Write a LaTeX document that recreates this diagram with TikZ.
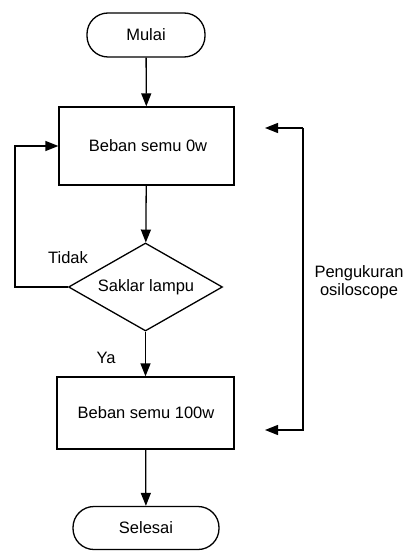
\documentclass[tikz,border=0pt]{standalone}
\usepackage{fontspec}
\setmainfont{Liberation Sans}
\usetikzlibrary{arrows.meta,shapes.geometric}
\begin{document}
\begin{tikzpicture}[x=1pt,y=-1pt,
  font=\fontsize{16.5}{19}\selectfont,
  line width=1.3pt,
  terminal/.style={draw,rectangle,rounded corners=21pt,inner sep=0pt},
  procbox/.style={draw,rectangle,inner sep=0pt},
  decision/.style={draw,diamond,inner sep=0pt},
  txt/.style={inner sep=0pt,anchor=center},
  flow/.style={-{Triangle[length=13pt,width=10pt]}}]
\useasboundingbox (0,0) rectangle (407,556);

% nodes of the flow
\node[terminal,minimum width=118pt,minimum height=44pt] (start) at (146,35) {Mulai};
\node[procbox,minimum width=175pt,minimum height=78pt] (b0) at (146.5,146) {};
\node[txt] at (148,146) {Beban semu 0w};
\node[decision,minimum width=154pt,minimum height=88pt] (sw) at (145.5,287) {};
\node[txt] at (146,287) {Saklar lampu};
\node[procbox,minimum width=177pt,minimum height=72pt] (b100) at (145.5,413) {};
\node[txt] at (146,413) {Beban semu 100w};
\node[terminal,minimum width=146pt,minimum height=43pt] (end) at (146,528) {Selesai};

% branch labels
\node[txt] (tidak) at (68,258) {Tidak};
\node[txt] (ya) at (106,358) {Ya};

% measurement note
\node[txt,align=center] (osc) at (359,282) {Pengukuran\\[-1pt]osiloscope};
\coordinate (mtop) at (303,128);
\coordinate (mbot) at (303,430);
\coordinate (mtopend) at (265,128);
\coordinate (mbotend) at (265,430);
\coordinate (loopx) at (15,0);

% connectors
\draw[flow] (start) -- (b0);
\draw[flow] (b0) -- (sw);
\draw[flow] (sw) -- (b100);
\draw[flow] (b100) -- (end);
\draw[flow] (sw.west) -- (loopx |- sw.west) -- (loopx |- b0.west) -- (b0.west);
\draw[flow] (mtop) -- (mbot) -- (mbotend);
\draw[flow] (mtop) -- (mtopend);
\end{tikzpicture}
\end{document}
